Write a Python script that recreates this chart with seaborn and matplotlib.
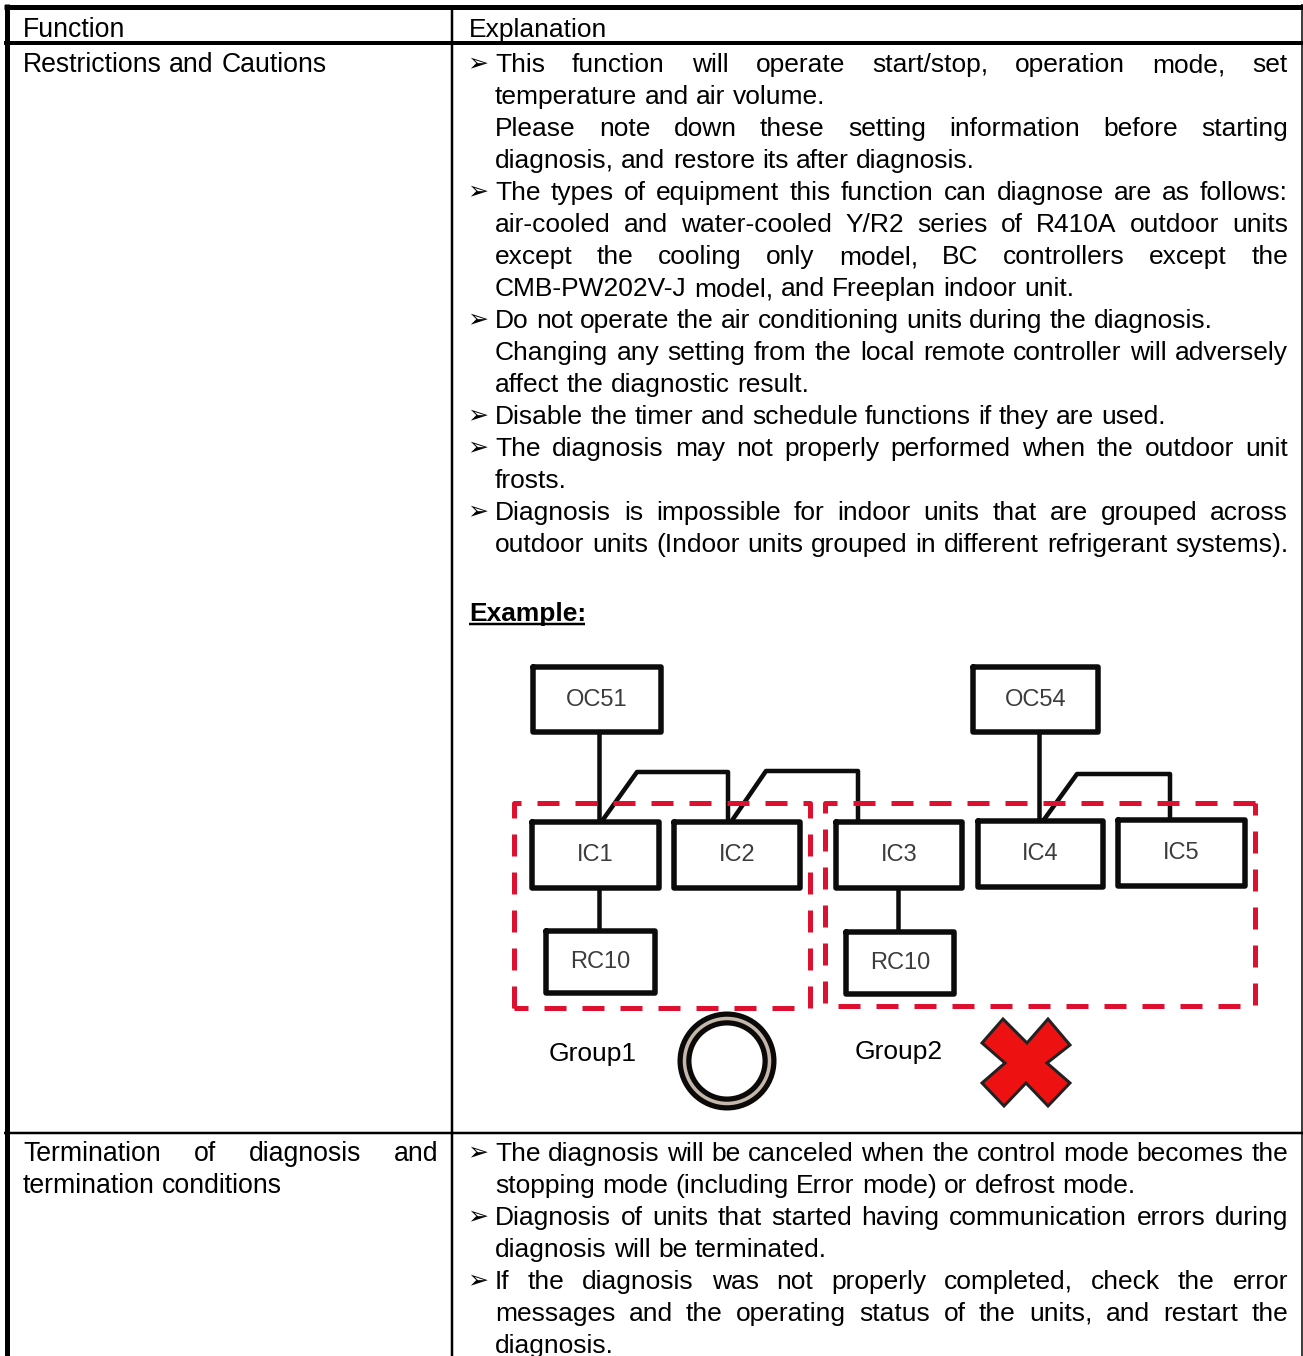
import pandas as pd
import matplotlib
matplotlib.use('Agg')
import matplotlib.pyplot as plt
from matplotlib.patches import Ellipse, Polygon
import seaborn as sns

# table text, (text, justified, y)
left_rows = [("Function", False, 27),
             ("Restrictions and Cautions", False, 62),
             ("Termination of diagnosis and", True, 1151),
             ("termination conditions", False, 1183)]

# (text, justified, has bullet, y)
right_rows = [("Explanation", False, False, 27),
              ("This function will operate start/stop, operation mode, set", True, True, 62),
              ("temperature and air volume.", False, False, 94),
              ("Please note down these setting information before starting", True, False, 126),
              ("diagnosis, and restore its after diagnosis.", False, False, 158),
              ("The types of equipment this function can diagnose are as follows:", True, True, 190),
              ("air-cooled and water-cooled Y/R2 series of R410A outdoor units", True, False, 222),
              ("except the cooling only model, BC controllers except the", True, False, 254),
              ("CMB-PW202V-J model, and Freeplan indoor unit.", False, False, 286),
              ("Do not operate the air conditioning units during the diagnosis.", False, True, 318),
              ("Changing any setting from the local remote controller will adversely", True, False, 350),
              ("affect the diagnostic result.", False, False, 382),
              ("Disable the timer and schedule functions if they are used.", False, True, 414),
              ("The diagnosis may not properly performed when the outdoor unit", True, True, 446),
              ("frosts.", False, False, 478),
              ("Diagnosis is impossible for indoor units that are grouped across", True, True, 510),
              ("outdoor units (Indoor units grouped in different refrigerant systems).", True, False, 542),
              ("The diagnosis will be canceled when the control mode becomes the", True, True, 1151),
              ("stopping mode (including Error mode) or defrost mode.", False, False, 1183),
              ("Diagnosis of units that started having communication errors during", True, True, 1215),
              ("diagnosis will be terminated.", False, False, 1247),
              ("If the diagnosis was not properly completed, check the error", True, True, 1279),
              ("messages and the operating status of the units, and restart the", True, False, 1311),
              ("diagnosis.", False, False, 1343)]

# table rules: x0, x1, y0, y1, width in px
rules = [(6.5, 6.5, 4, 1356, 5), (4, 1303, 6.5, 6.5, 5), (4, 1303, 43, 43, 4),
         (452, 452, 6, 1356, 2.5), (4, 1303, 1133, 1133, 2.5), (1302, 1302, 4, 1356, 1.5)]

# diagram boxes: label, x0, x1, y0, y1
boxes = [("OC51", 533, 661, 667, 732), ("OC54", 973, 1098, 667, 732),
         ("IC1", 532, 659, 822, 888), ("IC2", 674, 800, 822, 888),
         ("IC3", 836, 962, 822, 888), ("IC4", 978, 1103, 821, 887),
         ("IC5", 1118, 1245, 820, 886),
         ("RC10", 546, 655, 931, 993), ("RC10", 846, 954, 932, 994)]

wire_x = [[599, 599], [602, 637, 728, 728], [731, 766, 858, 858], [1039, 1039],
          [1043, 1077, 1170, 1170], [599, 599], [898, 898]]
wire_y = [[732, 822], [821, 772, 772, 822], [822, 771, 771, 822], [732, 821],
          [821, 774, 774, 820], [888, 931], [888, 932]]

group_x = [[514, 514, 810, 810, 514], [1255, 825, 825, 1255, 1255]]
group_y = [[1008, 803, 803, 1008, 1008], [803, 803, 1006, 1006, 803]]

cross_x = [1003, 1027, 1048, 1070, 1047, 1070, 1048, 1026, 1004, 982, 1005, 982]
cross_y = [1019, 1043, 1019, 1045, 1063, 1083, 1106, 1083, 1106, 1083, 1063, 1043]

FONT = ['Liberation Sans', 'DejaVu Sans']
FS = 19.0
FS_LEFT = 19.15
DARK = '#0c0c0c'


def px(w):
    return w * 0.72


def segments(xs, ys):
    rows = []
    for i, (a, b) in enumerate(zip(xs, ys)):
        for n, (x, y) in enumerate(zip(a, b)):
            rows.append({'x': x, 'y': y, 'part': i, 'order': n})
    return pd.DataFrame(rows)


def draw_lines(ax, xs, ys, color, width, **kw):
    sns.lineplot(data=segments(xs, ys), x='x', y='y', units='part', estimator=None, sort=False,
                 color=color, linewidth=px(width), ax=ax, legend=False, **kw)


def put_line(ax, text, x0, x1, y, justify, fs=FS):
    r = ax.figure.canvas.get_renderer()
    words = text.split(' ')
    # common baseline, so words with and without descenders stay level
    items = [ax.text(0, y + 10, w, fontsize=fs, family=FONT, va='baseline', color='black') for w in words]
    widths = [t.get_window_extent(r).width for t in items]
    space = fs / 0.72 * 0.278
    if justify and len(words) > 1:
        space = (x1 - x0 - sum(widths)) / (len(words) - 1)
    x = x0
    for t, w in zip(items, widths):
        t.set_x(x)
        x += w + space


sns.set_theme(style='white')
plt.rcParams['font.family'] = FONT

fig = plt.figure(figsize=(13.03, 13.56), dpi=100)
ax = fig.add_axes([0, 0, 1, 1])

# table rules
for x0, x1, y0, y1, w in rules:
    draw_lines(ax, [[x0, x1]], [[y0, y1]], 'black', w, solid_capstyle='butt')

# wires and boxes
draw_lines(ax, wire_x, wire_y, DARK, 4.5, solid_joinstyle='round', solid_capstyle='butt')
box_x = [[b[1], b[2], b[2], b[1], b[1]] for b in boxes]
box_y = [[b[3], b[3], b[4], b[4], b[3]] for b in boxes]
draw_lines(ax, box_x, box_y, DARK, 5.5, solid_joinstyle='round', solid_capstyle='round')
for label, x0, x1, y0, y1 in boxes:
    ax.text((x0 + x1) / 2, (y0 + y1) / 2, label, fontsize=17, family=FONT, color='#3c3c3c',
            ha='center', va='center')

# red dashed groups
draw_lines(ax, group_x, group_y, '#dd1030', 5, linestyle=(0, (4.4, 3.2)), dash_capstyle='butt')

# ring and cross
ax.add_patch(Ellipse((727, 1061), 85, 85, fc='none', ec='#0c0a08', lw=px(14)))
ax.add_patch(Ellipse((727, 1061), 85, 85, fc='none', ec='#c4b8ac', lw=px(3.5)))
ax.add_patch(Polygon(list(zip(cross_x, cross_y)), closed=True, fc='#ee1111', ec='#222222',
                     lw=px(3), joinstyle='miter'))

ax.set_xlim(0, 1303)
ax.set_ylim(1356, 0)
ax.set_axis_off()
fig.canvas.draw()

# table text
for text, just, y in left_rows:
    put_line(ax, text, 23, 438, y, just, fs=FS_LEFT)
for text, just, bullet, y in right_rows:
    x0 = 469 if text == "Explanation" else 495
    put_line(ax, text, x0, 1288, y, just)
    if bullet:
        ax.text(467, y + 8, '\u27a2', fontsize=18, family=FONT, va='baseline', color='black')

ax.text(469, 620.5, "Example:", fontsize=FS, family=FONT, fontweight='bold', va='baseline', color='black')
draw_lines(ax, [[469, 585]], [[624, 624]], 'black', 2.5, solid_capstyle='butt')

ax.text(549, 1061, "Group1", fontsize=FS, family=FONT, va='baseline', color='black')
ax.text(855, 1059, "Group2", fontsize=FS, family=FONT, va='baseline', color='black')

ax.set_xlim(0, 1303)
ax.set_ylim(1356, 0)
fig.savefig('out.png', dpi=100)
